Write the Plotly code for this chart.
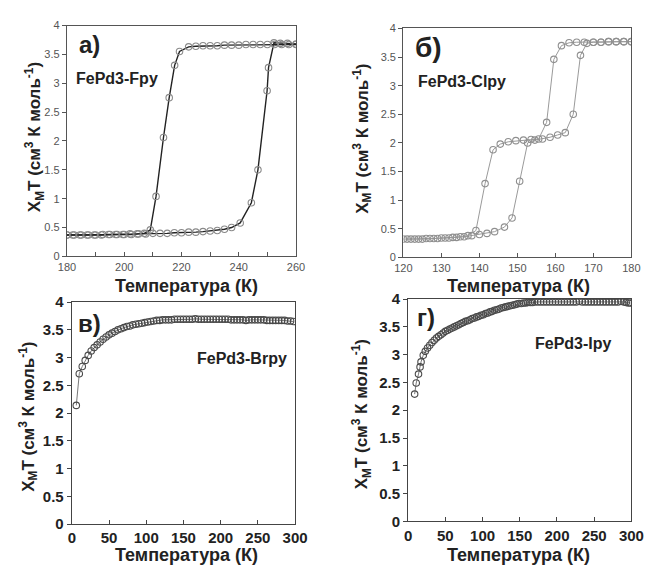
import plotly.graph_objects as go

# Panel а) FePd3-Fpy
a_heat_T = [180, 182.5, 185, 187.5, 190, 192.5, 195, 197.5, 200, 202.5, 205, 207.5, 210, 212.5, 215, 217.5,
            220, 222.5, 225, 227.5, 230, 232.5, 235, 237.5, 240.5, 244.4, 246.7, 249.9, 250.4, 252.3, 254.5, 257, 260]
a_heat_Y = [0.37, 0.37, 0.37, 0.37, 0.37, 0.38, 0.38, 0.38, 0.38, 0.38, 0.39, 0.39, 0.40, 0.40, 0.40, 0.41,
            0.41, 0.42, 0.42, 0.43, 0.44, 0.45, 0.47, 0.50, 0.58, 0.93, 1.50, 2.87, 3.27, 3.70, 3.69, 3.69, 3.68]
a_cool_T = [260, 257.5, 255, 252.5, 250, 247.5, 245, 242.5, 240, 237.5, 235, 232.5, 230, 227.5, 225, 222.5,
            219.3, 217.6, 215.7, 213.7, 211.1, 209.1, 207, 204.5, 202, 199.5, 197, 194.5, 192, 189.5, 187, 184.5, 182, 180]
a_cool_Y = [3.67, 3.67, 3.67, 3.67, 3.67, 3.67, 3.67, 3.67, 3.66, 3.66, 3.66, 3.65, 3.65, 3.65, 3.64, 3.63,
            3.55, 3.31, 2.75, 2.06, 1.04, 0.46, 0.40, 0.39, 0.39, 0.38, 0.38, 0.38, 0.37, 0.37, 0.37, 0.37, 0.37, 0.37]

# Panel б) FePd3-Clpy
b_heat_T = [120, 122, 124, 126, 128, 130, 132, 134, 136, 138, 140, 142, 144, 146.6, 148.6, 150.6, 152.7,
            154.6, 156.6, 158.6, 160.6, 162.6, 164.7, 166.6, 168.3, 170, 172, 174, 176, 178, 180]
b_heat_Y = [0.32, 0.32, 0.32, 0.33, 0.33, 0.34, 0.34, 0.35, 0.36, 0.38, 0.40, 0.42, 0.45, 0.53, 0.69, 1.33, 2.00,
            2.05, 2.07, 2.10, 2.14, 2.18, 2.50, 3.53, 3.74, 3.76, 3.76, 3.77, 3.77, 3.77, 3.77]
b_cool_T = [180, 178, 176, 174, 172, 170, 167.6, 165.6, 163.6, 161.6, 159.6, 157.7, 155.6, 153.6, 151.6,
            149.6, 147.6, 145.5, 143.6, 141.5, 139.1, 137, 135, 133, 131, 129, 127, 125, 123, 121]
b_cool_Y = [3.77, 3.77, 3.77, 3.77, 3.76, 3.76, 3.76, 3.76, 3.75, 3.70, 3.46, 2.36, 2.07, 2.06, 2.05,
            2.04, 2.02, 1.98, 1.88, 1.29, 0.47, 0.38, 0.36, 0.35, 0.34, 0.33, 0.33, 0.32, 0.32, 0.32]

# Panel в) FePd3-Brpy
c_T = [6, 10, 14, 18, 22, 26, 30, 34, 38, 42, 46, 50, 54, 58, 62, 66, 70, 74, 78, 82, 86, 90, 94, 98,
       102, 106, 110, 114, 118, 122, 126, 130, 134, 138, 142, 146, 150, 154, 158, 162, 166, 170, 174,
       178, 182, 186, 190, 194, 198, 202, 206, 210, 214, 218, 222, 226, 230, 234, 238, 242, 246, 250,
       254, 258, 262, 266, 270, 274, 278, 282, 286, 290, 294, 298]
c_Y = [2.14, 2.71, 2.84, 2.95, 3.04, 3.12, 3.18, 3.23, 3.28, 3.33, 3.37, 3.41, 3.44, 3.47, 3.50, 3.52,
       3.54, 3.56, 3.57, 3.59, 3.60, 3.61, 3.62, 3.63, 3.64, 3.65, 3.66, 3.67, 3.67, 3.68, 3.68, 3.68,
       3.68, 3.69, 3.69, 3.69, 3.69, 3.69, 3.69, 3.69, 3.70, 3.69, 3.69, 3.69, 3.69, 3.69, 3.69, 3.69,
       3.69, 3.69, 3.69, 3.69, 3.68, 3.68, 3.68, 3.68, 3.68, 3.67, 3.68, 3.68, 3.68, 3.68, 3.68, 3.68,
       3.67, 3.67, 3.67, 3.67, 3.67, 3.67, 3.67, 3.66, 3.66, 3.65]

# Panel г) FePd3-Ipy
d_T = [8.7, 10.8, 13.9, 16, 17.3, 20.3, 23, 26, 29, 32, 35, 38, 41, 44, 47, 50, 53, 56, 59, 62, 65, 68,
       71, 74, 77, 80, 83, 86, 89, 92, 95, 98, 101, 104, 107, 110, 113, 116, 119, 122, 125, 128, 131,
       134, 137, 140, 143, 146, 149, 152, 155, 158, 161, 164, 167, 170, 174, 178, 182, 186, 190, 194,
       198, 202, 206, 210, 214, 218, 222, 226, 230, 234, 238, 242, 246, 250, 254, 258, 262, 266, 270,
       274, 278, 282, 286, 290, 293, 296, 299]
d_Y = [2.29, 2.49, 2.65, 2.78, 2.87, 2.99, 3.06, 3.12, 3.17, 3.22, 3.26, 3.30, 3.33, 3.36, 3.39, 3.42,
       3.44, 3.46, 3.48, 3.50, 3.52, 3.54, 3.56, 3.58, 3.60, 3.61, 3.63, 3.65, 3.66, 3.68, 3.69, 3.71,
       3.72, 3.74, 3.75, 3.77, 3.78, 3.80, 3.81, 3.82, 3.84, 3.85, 3.86, 3.87, 3.88, 3.89, 3.90, 3.91,
       3.92, 3.92, 3.93, 3.93, 3.94, 3.94, 3.94, 3.95, 3.95, 3.95, 3.95, 3.95, 3.95, 3.95, 3.95, 3.95,
       3.95, 3.95, 3.95, 3.95, 3.95, 3.95, 3.96, 3.95, 3.95, 3.95, 3.95, 3.95, 3.95, 3.95, 3.95, 3.95,
       3.95, 3.95, 3.95, 3.95, 3.96, 3.95, 3.94, 3.93, 3.93]

y_ticks = [0, 0.5, 1, 1.5, 2, 2.5, 3, 3.5, 4]
y_ticktext = ["0", "0.5", "1", "1.5", "2", "2.5", "3", "3.5", "4"]
x_ticks_a = [180, 200, 220, 240, 260]
x_ticks_b = [120, 130, 140, 150, 160, 170, 180]
x_ticks_cd = [0, 50, 100, 150, 200, 250, 300]

Y_TITLE = "Χ<sub>M</sub>T (см<sup>3</sup> К моль<sup>-1</sup>)"
X_TITLE = "Температура (К)"
FONT = "Liberation Sans, Arial, sans-serif"

fig = go.Figure()

def add_series(x, y, xa, ya, line_color, line_w, mk_color, size):
    fig.add_trace(go.Scatter(
        x=x, y=y, xaxis=xa, yaxis=ya, mode="lines+markers",
        line=dict(color=line_color, width=line_w),
        marker=dict(symbol="circle-open", size=size, color=mk_color, line=dict(width=1.1)),
        showlegend=False, hoverinfo="x+y"))

add_series(a_heat_T, a_heat_Y, "x", "y", "#222222", 1.4, "#8a8a8a", 6.5)
add_series(a_cool_T, a_cool_Y, "x", "y", "#222222", 1.4, "#8a8a8a", 6.5)
add_series(b_heat_T, b_heat_Y, "x2", "y2", "#9a9a9a", 1.0, "#8f8f8f", 6.5)
add_series(b_cool_T, b_cool_Y, "x2", "y2", "#9a9a9a", 1.0, "#8f8f8f", 6.5)
add_series(c_T, c_Y, "x3", "y3", "#555555", 0.8, "#4a4a4a", 6.5)
add_series(d_T, d_Y, "x4", "y4", "#555555", 0.8, "#4a4a4a", 6.5)

top_tick_font = dict(family=FONT, size=11, color="#555555")
bot_tick_font = dict(family=FONT, size=15, color="#222222", weight="bold")

def labels(vals, bold):
    out = []
    for v in vals:
        s = ("%g" % v)
        out.append("<b>%s</b>" % s if bold else s)
    return out

def xaxis(domain, anchor, rng, vals, minor, tfont, lc, bold):
    d = dict(domain=domain, anchor=anchor, range=rng, tickvals=vals, ticktext=labels(vals, bold),
             showgrid=False, zeroline=False, showline=True, linecolor=lc, linewidth=1.3,
             mirror=True, ticks="inside", ticklen=4, tickcolor=lc, tickfont=tfont)
    if minor:
        d["minor"] = dict(dtick=minor, tick0=rng[0], ticks="inside", ticklen=4, tickcolor=lc, showgrid=False)
    return d

def yaxis(domain, anchor, tfont, lc, bold):
    return dict(domain=domain, anchor=anchor, range=[0, 4], tickvals=y_ticks,
                ticktext=["<b>%s</b>" % t if bold else t for t in y_ticktext],
                showgrid=False, zeroline=False, showline=True, linecolor=lc, linewidth=1.3,
                mirror=True, ticks="outside", ticklen=4, tickcolor=lc, tickfont=tfont)

fig.update_layout(
    width=656, height=573, margin=dict(l=0, r=0, t=0, b=0),
    paper_bgcolor="white", plot_bgcolor="white",
    xaxis=xaxis([0.0915, 0.4527], "y", [180, 260], x_ticks_a, 10, top_tick_font, "#555555", False),
    yaxis=yaxis([0.555, 0.9703], "x", top_tick_font, "#555555", False),
    xaxis2=xaxis([0.622, 0.9817], "y2", [120, 180], x_ticks_b, None, top_tick_font, "#555555", False),
    yaxis2=yaxis([0.5532, 0.965], "x2", top_tick_font, "#555555", False),
    xaxis3=xaxis([0.0991, 0.4512], "y3", [0, 300], x_ticks_cd, None, bot_tick_font, "#444444", True),
    yaxis3=yaxis([0.0733, 0.4729], "x3", bot_tick_font, "#444444", True),
    xaxis4=xaxis([0.6296, 0.9817], "y4", [0, 300], x_ticks_cd, None, bot_tick_font, "#444444", True),
    yaxis4=yaxis([0.0785, 0.4782], "x4", bot_tick_font, "#444444", True),
)

ann = []
def txt(x, y, s, size, color="#222222", xanchor="center", angle=0):
    ann.append(dict(x=x / 656, y=1 - y / 573, xref="paper", yref="paper", text="<b>%s</b>" % s,
                    showarrow=False, xanchor=xanchor, yanchor="middle", textangle=angle, borderpad=0,
                    font=dict(family=FONT, size=size, color=color)))

# axis titles
txt(26, 132, Y_TITLE, 17, angle=-90)
txt(365, 134, Y_TITLE, 17, angle=-90)
txt(20, 420, Y_TITLE, 17, angle=-90)
txt(365, 418, Y_TITLE, 17, angle=-90)
txt(184, 285, X_TITLE, 18)
txt(527, 285, X_TITLE, 18)
txt(184, 563, X_TITLE, 18)
txt(527, 563, X_TITLE, 18)

# panel labels
txt(71, 37, "а)", 24, xanchor="left")
txt(419, 40, "б)", 28, xanchor="left")
txt(70, 324, "в)", 24, xanchor="left")
txt(421, 318, "г)", 24, xanchor="left")
txt(68, 72, "FePd3-Fpy", 16, xanchor="left")
txt(422, 75, "FePd3-Clpy", 16, xanchor="left")
txt(193, 360, "FePd3-Brpy", 16, xanchor="left")
txt(543, 345, "FePd3-Ipy", 16, xanchor="left")

fig.update_layout(annotations=ann)
fig.write_html("out.html")
